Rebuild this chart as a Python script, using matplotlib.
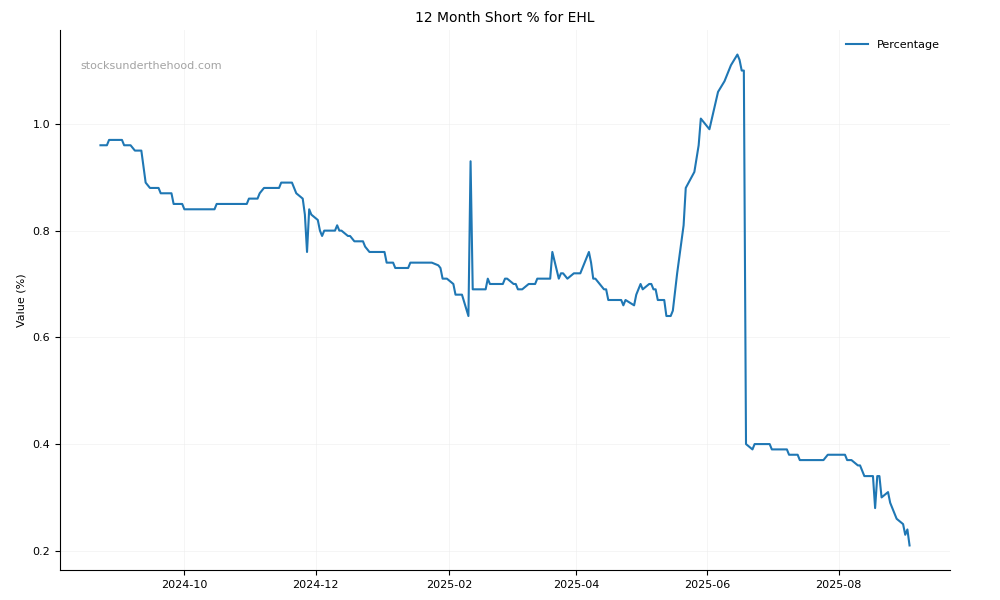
import matplotlib
matplotlib.use("Agg")
import matplotlib.pyplot as plt
import matplotlib.dates as mdates
import pandas as pd

dates = [
    "2024-08-23", "2024-08-26", "2024-08-27", "2024-09-02", "2024-09-03", "2024-09-06",
    "2024-09-08", "2024-09-11", "2024-09-13", "2024-09-15", "2024-09-19", "2024-09-20",
    "2024-09-25", "2024-09-26", "2024-09-30", "2024-10-01", "2024-10-15", "2024-10-16",
    "2024-10-30", "2024-10-31", "2024-11-04", "2024-11-05", "2024-11-07", "2024-11-14",
    "2024-11-15", "2024-11-20", "2024-11-22", "2024-11-25", "2024-11-26", "2024-11-27",
    "2024-11-28", "2024-11-29", "2024-12-02", "2024-12-03", "2024-12-04", "2024-12-05",
    "2024-12-10", "2024-12-11", "2024-12-12", "2024-12-13", "2024-12-16", "2024-12-17",
    "2024-12-19", "2024-12-23", "2024-12-24", "2024-12-26", "2025-01-02", "2025-01-03",
    "2025-01-06", "2025-01-07", "2025-01-13", "2025-01-14", "2025-01-24", "2025-01-27",
    "2025-01-28", "2025-01-29", "2025-01-31", "2025-02-03", "2025-02-04", "2025-02-07",
    "2025-02-10", "2025-02-11", "2025-02-12", "2025-02-18", "2025-02-19", "2025-02-20",
    "2025-02-26", "2025-02-27", "2025-02-28", "2025-03-03", "2025-03-04", "2025-03-05",
    "2025-03-07", "2025-03-10", "2025-03-13", "2025-03-14", "2025-03-20", "2025-03-21",
    "2025-03-24", "2025-03-25", "2025-03-26", "2025-03-28", "2025-03-31", "2025-04-03",
    "2025-04-07", "2025-04-08", "2025-04-09", "2025-04-10", "2025-04-14", "2025-04-15",
    "2025-04-16", "2025-04-22", "2025-04-23", "2025-04-24", "2025-04-28", "2025-04-29",
    "2025-05-01", "2025-05-02", "2025-05-05", "2025-05-06", "2025-05-07", "2025-05-08",
    "2025-05-09", "2025-05-12", "2025-05-13", "2025-05-15", "2025-05-16", "2025-05-18",
    "2025-05-19", "2025-05-21", "2025-05-22", "2025-05-26", "2025-05-28", "2025-05-29",
    "2025-06-02", "2025-06-06", "2025-06-09", "2025-06-12", "2025-06-15", "2025-06-16",
    "2025-06-17", "2025-06-18", "2025-06-19", "2025-06-22", "2025-06-23", "2025-06-30",
    "2025-07-01", "2025-07-08", "2025-07-09", "2025-07-13", "2025-07-14", "2025-07-25",
    "2025-07-27", "2025-08-04", "2025-08-05", "2025-08-07", "2025-08-10", "2025-08-11",
    "2025-08-13", "2025-08-17", "2025-08-18", "2025-08-19", "2025-08-20", "2025-08-21",
    "2025-08-24", "2025-08-25", "2025-08-28", "2025-08-31", "2025-09-01", "2025-09-02",
    "2025-09-03",
]
values = [
    0.96, 0.96, 0.97, 0.97, 0.96, 0.96,
    0.95, 0.95, 0.89, 0.88, 0.88, 0.87,
    0.87, 0.85, 0.85, 0.84, 0.84, 0.85,
    0.85, 0.86, 0.86, 0.87, 0.88, 0.88,
    0.89, 0.89, 0.87, 0.86, 0.83, 0.76,
    0.84, 0.83, 0.82, 0.80, 0.79, 0.80,
    0.80, 0.81, 0.80, 0.80, 0.79, 0.79,
    0.78, 0.78, 0.77, 0.76, 0.76, 0.74,
    0.74, 0.73, 0.73, 0.74, 0.74, 0.735,
    0.73, 0.71, 0.71, 0.70, 0.68, 0.68,
    0.64, 0.93, 0.69, 0.69, 0.71, 0.70,
    0.70, 0.71, 0.71, 0.70, 0.70, 0.69,
    0.69, 0.70, 0.70, 0.71, 0.71, 0.76,
    0.71, 0.72, 0.72, 0.71, 0.72, 0.72,
    0.76, 0.74, 0.71, 0.71, 0.69, 0.69,
    0.67, 0.67, 0.66, 0.67, 0.66, 0.68,
    0.70, 0.69, 0.70, 0.70, 0.69, 0.69,
    0.67, 0.67, 0.64, 0.64, 0.65, 0.72,
    0.75, 0.81, 0.88, 0.91, 0.96, 1.01,
    0.99, 1.06, 1.08, 1.11, 1.13, 1.12,
    1.10, 1.10, 0.40, 0.39, 0.40, 0.40,
    0.39, 0.39, 0.38, 0.38, 0.37, 0.37,
    0.38, 0.38, 0.37, 0.37, 0.36, 0.36,
    0.34, 0.34, 0.28, 0.34, 0.34, 0.30,
    0.31, 0.29, 0.26, 0.25, 0.23, 0.24,
    0.21,
]

title = "12 Month Short % for EHL"
ylabel = "Value (%)"
series_name = "Percentage"
watermark = "stocksunderthehood.com"

x = pd.to_datetime(dates)

fig = plt.figure(figsize=(10, 6), dpi=100)
ax = fig.add_axes([0.06, 0.05, 0.89, 0.90])
ax.plot(x, values, color="#1f77b4", linewidth=1.5, label=series_name)

ax.set_title(title, fontsize=10)
ax.set_ylabel(ylabel, fontsize=8)
ax.xaxis.set_major_locator(mdates.MonthLocator(bymonth=[2, 4, 6, 8, 10, 12]))
ax.xaxis.set_major_formatter(mdates.DateFormatter("%Y-%m"))
ax.tick_params(axis="both", labelsize=8)
ax.grid(True, color="#eeeeee", linewidth=0.6, alpha=0.7)
ax.spines["top"].set_visible(False)
ax.spines["right"].set_visible(False)
ax.legend(loc="upper right", frameon=False, fontsize=8)
ax.text(0.023, 0.928, watermark, transform=ax.transAxes, fontsize=8,
        color="#999999", alpha=0.9)

fig.savefig("out.png", dpi=100)
